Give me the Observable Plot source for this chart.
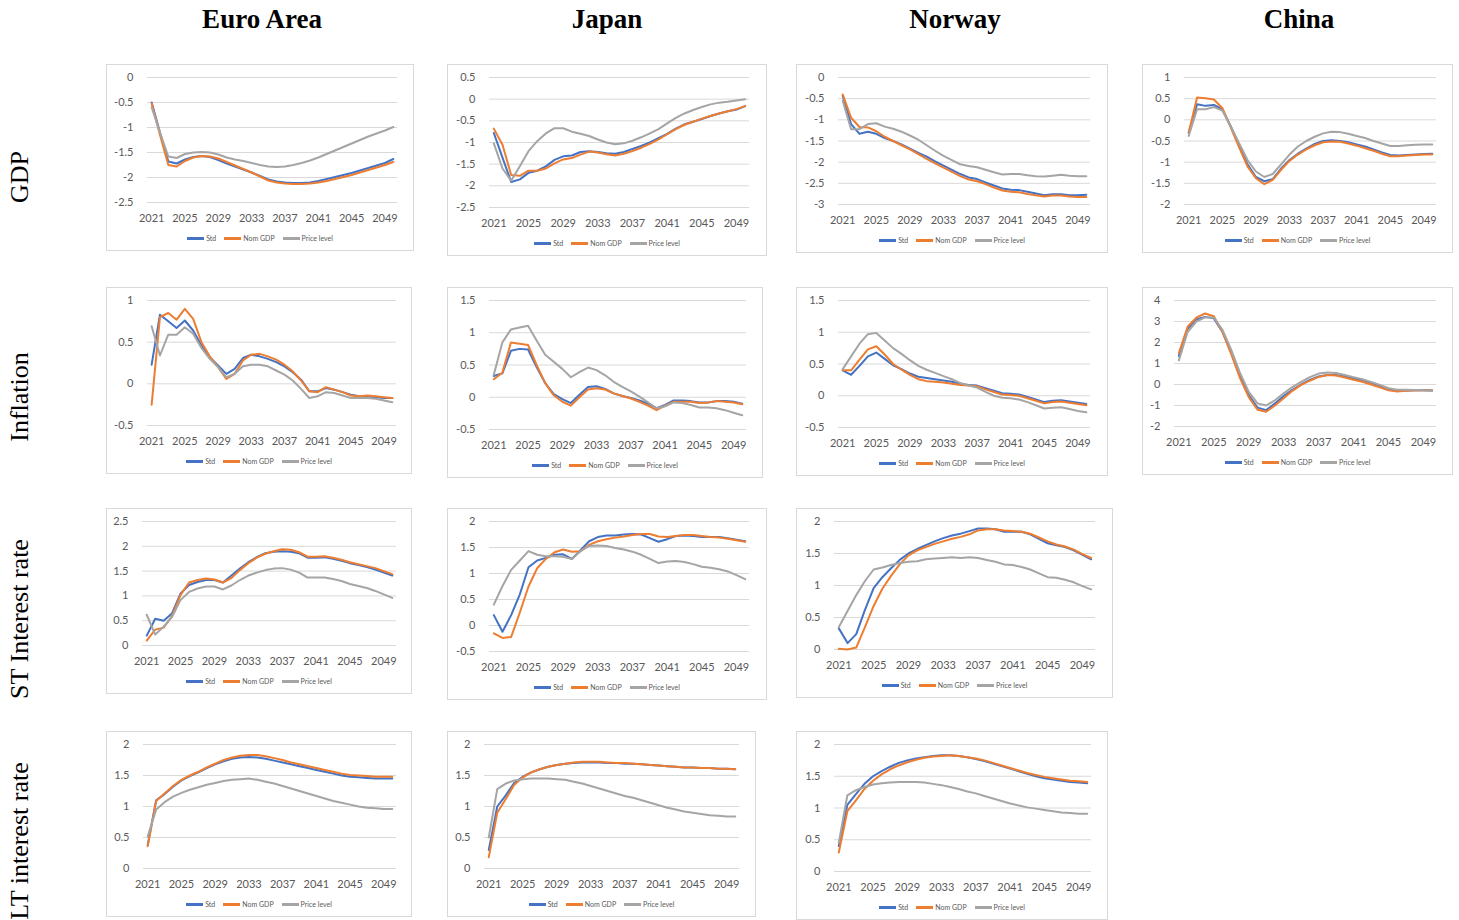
<!DOCTYPE html>
<html>
<head>
<meta charset="utf-8">
<script src="https://cdn.jsdelivr.net/npm/d3@7"></script>
<script src="https://cdn.jsdelivr.net/npm/@observablehq/plot@0.6"></script>
<style>
  html, body { margin: 0; padding: 0; background: #fff; }
  #root { position: relative; width: 1459px; height: 920px; overflow: hidden; }
  .colhead { position: absolute; top: 4px; font-family: "Liberation Serif", "Times New Roman", serif; font-weight: bold; font-size: 27px; color: #000; transform: translateX(-50%); white-space: nowrap; }
  .rowhead { position: absolute; left: 20px; font-family: "Liberation Serif", "Times New Roman", serif; font-size: 26px; color: #000; white-space: nowrap; transform: translate(-50%, -50%) rotate(-90deg); }
  .box { position: absolute; border: 1px solid #d9d9d9; box-sizing: border-box; background: #fff; }
  .box svg { position: absolute; left: 0; top: 0; }
  .legend { position: absolute; left: 0; right: 0; bottom: 6px; display: flex; justify-content: center; align-items: center; gap: 8px; font-family: Lato, "Open Sans", sans-serif; font-size: 7px; color: #595959; line-height: 12px; }
  .legend .item { display: flex; align-items: center; gap: 2px; }
  .legend .sw { display: inline-block; width: 17px; height: 3px; }
</style>
</head>
<body>
<div id="root"></div>
<script>
// ---------- DATA ----------
const years = d3.range(2021, 2051);
const xTicks = [2021, 2025, 2029, 2033, 2037, 2041, 2045, 2049];
const seriesNames = ["Std", "Nom GDP", "Price level"];
const seriesColors = ["#4472C4", "#ED7D31", "#A5A5A5"];
const columns = ["Euro Area", "Japan", "Norway", "China"];
const rows = ["GDP", "Inflation", "ST Interest rate", "LT interest rate"];

// GDP
const euroGdpStd = [-0.5,-1.1,-1.68,-1.72,-1.64,-1.59,-1.57,-1.59,-1.65,-1.72,-1.78,-1.84,-1.9,-1.97,-2.04,-2.08,-2.1,-2.11,-2.11,-2.1,-2.07,-2.03,-1.99,-1.95,-1.91,-1.86,-1.81,-1.76,-1.71,-1.63];
const euroGdpNom = [-0.52,-1.15,-1.75,-1.78,-1.67,-1.6,-1.57,-1.58,-1.62,-1.69,-1.76,-1.83,-1.9,-1.98,-2.06,-2.1,-2.12,-2.13,-2.13,-2.12,-2.1,-2.07,-2.03,-1.99,-1.95,-1.9,-1.85,-1.8,-1.75,-1.69];
const euroGdpPrice = [-0.6,-1.1,-1.58,-1.61,-1.53,-1.5,-1.49,-1.5,-1.54,-1.6,-1.64,-1.67,-1.71,-1.75,-1.78,-1.79,-1.78,-1.75,-1.71,-1.66,-1.6,-1.53,-1.46,-1.39,-1.32,-1.25,-1.18,-1.12,-1.06,-0.99];

const japanGdpStd = [-0.78,-1.35,-1.91,-1.85,-1.7,-1.65,-1.55,-1.4,-1.32,-1.3,-1.22,-1.2,-1.22,-1.25,-1.26,-1.22,-1.15,-1.08,-1.0,-0.9,-0.8,-0.68,-0.58,-0.52,-0.46,-0.39,-0.33,-0.28,-0.24,-0.16];
const japanGdpNom = [-0.68,-1.05,-1.75,-1.77,-1.65,-1.65,-1.6,-1.48,-1.39,-1.36,-1.28,-1.21,-1.23,-1.27,-1.3,-1.26,-1.2,-1.12,-1.03,-0.93,-0.81,-0.69,-0.59,-0.52,-0.45,-0.39,-0.33,-0.28,-0.23,-0.16];
const japanGdpPrice = [-1.02,-1.6,-1.88,-1.55,-1.2,-0.97,-0.79,-0.67,-0.67,-0.75,-0.8,-0.85,-0.93,-1.0,-1.04,-1.02,-0.96,-0.88,-0.79,-0.69,-0.56,-0.43,-0.33,-0.25,-0.18,-0.12,-0.08,-0.06,-0.03,0.0];

const norwayGdpStd = [-0.43,-1.1,-1.33,-1.28,-1.33,-1.43,-1.5,-1.58,-1.68,-1.78,-1.87,-1.98,-2.08,-2.18,-2.28,-2.36,-2.4,-2.48,-2.55,-2.62,-2.65,-2.66,-2.7,-2.74,-2.78,-2.76,-2.76,-2.78,-2.78,-2.77];
const norwayGdpNom = [-0.4,-0.95,-1.17,-1.18,-1.27,-1.4,-1.5,-1.6,-1.7,-1.81,-1.92,-2.03,-2.13,-2.23,-2.33,-2.41,-2.45,-2.52,-2.6,-2.67,-2.7,-2.71,-2.75,-2.78,-2.81,-2.79,-2.79,-2.81,-2.82,-2.82];
const norwayGdpPrice = [-0.55,-1.22,-1.22,-1.1,-1.08,-1.16,-1.21,-1.28,-1.37,-1.47,-1.6,-1.73,-1.85,-1.95,-2.05,-2.09,-2.12,-2.18,-2.24,-2.29,-2.28,-2.28,-2.31,-2.33,-2.34,-2.32,-2.3,-2.32,-2.33,-2.33];

const chinaGdpStd = [-0.3,0.37,0.33,0.35,0.25,-0.15,-0.6,-1.05,-1.35,-1.45,-1.4,-1.15,-0.95,-0.8,-0.68,-0.57,-0.5,-0.48,-0.5,-0.53,-0.58,-0.63,-0.7,-0.77,-0.83,-0.84,-0.83,-0.82,-0.81,-0.8];
const chinaGdpNom = [-0.3,0.53,0.51,0.48,0.28,-0.18,-0.65,-1.1,-1.38,-1.52,-1.42,-1.18,-0.97,-0.82,-0.7,-0.6,-0.53,-0.51,-0.52,-0.56,-0.61,-0.67,-0.73,-0.8,-0.86,-0.86,-0.84,-0.83,-0.82,-0.82];
const chinaGdpPrice = [-0.38,0.25,0.25,0.3,0.22,-0.15,-0.55,-0.95,-1.22,-1.35,-1.28,-1.05,-0.82,-0.63,-0.5,-0.4,-0.32,-0.28,-0.29,-0.33,-0.38,-0.43,-0.5,-0.56,-0.62,-0.62,-0.6,-0.59,-0.58,-0.58];

// Inflation
const euroInfStd = [0.23,0.83,0.75,0.67,0.76,0.64,0.46,0.32,0.22,0.12,0.18,0.31,0.35,0.33,0.3,0.26,0.21,0.14,0.05,-0.09,-0.09,-0.05,-0.07,-0.1,-0.13,-0.15,-0.15,-0.16,-0.17,-0.17];
const euroInfNom = [-0.25,0.8,0.85,0.77,0.9,0.78,0.5,0.33,0.2,0.06,0.12,0.28,0.35,0.36,0.33,0.29,0.23,0.15,0.04,-0.09,-0.1,-0.04,-0.07,-0.1,-0.14,-0.15,-0.14,-0.15,-0.16,-0.17];
const euroInfPrice = [0.69,0.34,0.59,0.59,0.68,0.6,0.43,0.3,0.2,0.08,0.12,0.21,0.23,0.23,0.21,0.16,0.11,0.04,-0.06,-0.17,-0.15,-0.1,-0.11,-0.14,-0.17,-0.17,-0.17,-0.18,-0.2,-0.22];

const japanInfStd = [0.33,0.37,0.72,0.75,0.74,0.47,0.22,0.05,-0.03,-0.09,0.04,0.16,0.17,0.13,0.06,0.02,-0.01,-0.05,-0.1,-0.17,-0.12,-0.05,-0.05,-0.06,-0.08,-0.08,-0.06,-0.06,-0.07,-0.1];
const japanInfNom = [0.28,0.38,0.85,0.83,0.81,0.5,0.22,0.03,-0.07,-0.13,0.0,0.12,0.14,0.12,0.06,0.02,-0.02,-0.07,-0.13,-0.2,-0.13,-0.07,-0.07,-0.07,-0.09,-0.08,-0.06,-0.07,-0.08,-0.11];
const japanInfPrice = [0.35,0.85,1.05,1.08,1.11,0.88,0.66,0.55,0.44,0.31,0.39,0.46,0.42,0.34,0.24,0.16,0.09,0.01,-0.08,-0.17,-0.14,-0.08,-0.09,-0.12,-0.16,-0.16,-0.17,-0.2,-0.24,-0.28];

const norwayInfStd = [0.4,0.33,0.47,0.62,0.68,0.58,0.48,0.42,0.35,0.3,0.28,0.26,0.24,0.22,0.19,0.17,0.16,0.12,0.08,0.04,0.03,0.02,-0.02,-0.06,-0.1,-0.08,-0.07,-0.09,-0.11,-0.13];
const norwayInfNom = [0.4,0.4,0.57,0.73,0.78,0.65,0.5,0.41,0.33,0.26,0.23,0.22,0.21,0.19,0.17,0.16,0.15,0.1,0.06,0.02,0.01,0.0,-0.04,-0.08,-0.12,-0.1,-0.09,-0.11,-0.13,-0.15];
const norwayInfPrice = [0.42,0.62,0.82,0.97,0.99,0.87,0.75,0.66,0.56,0.47,0.41,0.36,0.31,0.26,0.2,0.16,0.13,0.06,0.0,-0.03,-0.04,-0.06,-0.1,-0.15,-0.2,-0.19,-0.18,-0.21,-0.24,-0.26];

const chinaInfStd = [1.35,2.65,3.1,3.22,3.15,2.5,1.5,0.4,-0.5,-1.1,-1.22,-0.9,-0.55,-0.25,0.0,0.22,0.38,0.45,0.45,0.38,0.28,0.2,0.08,-0.05,-0.2,-0.28,-0.28,-0.27,-0.27,-0.28];
const chinaInfNom = [1.5,2.75,3.18,3.38,3.25,2.5,1.45,0.3,-0.6,-1.2,-1.3,-1.0,-0.65,-0.3,-0.02,0.18,0.36,0.45,0.43,0.33,0.23,0.13,0.0,-0.13,-0.28,-0.33,-0.3,-0.28,-0.27,-0.27];
const chinaInfPrice = [1.15,2.5,3.0,3.2,3.18,2.6,1.65,0.55,-0.35,-0.9,-1.0,-0.75,-0.42,-0.12,0.12,0.35,0.52,0.57,0.55,0.45,0.35,0.25,0.12,-0.02,-0.18,-0.25,-0.25,-0.26,-0.27,-0.3];

// ST interest rate
const euroStStd = [0.2,0.54,0.5,0.65,1.05,1.22,1.28,1.32,1.32,1.27,1.41,1.55,1.68,1.78,1.86,1.89,1.9,1.89,1.86,1.77,1.77,1.78,1.75,1.71,1.66,1.62,1.58,1.53,1.47,1.41];
const euroStNom = [0.1,0.32,0.36,0.6,1.02,1.27,1.32,1.35,1.33,1.27,1.36,1.52,1.66,1.77,1.85,1.9,1.94,1.93,1.88,1.79,1.79,1.8,1.77,1.73,1.68,1.64,1.6,1.56,1.5,1.44];
const euroStPrice = [0.62,0.22,0.38,0.58,0.92,1.08,1.15,1.19,1.19,1.13,1.21,1.32,1.41,1.47,1.52,1.55,1.56,1.53,1.47,1.37,1.37,1.37,1.34,1.3,1.24,1.2,1.16,1.1,1.03,0.96];

const japanStStd = [0.2,-0.12,0.2,0.6,1.12,1.25,1.3,1.36,1.37,1.28,1.45,1.62,1.7,1.73,1.73,1.75,1.76,1.75,1.68,1.61,1.66,1.72,1.73,1.72,1.7,1.7,1.7,1.68,1.65,1.62];
const japanStNom = [-0.15,-0.24,-0.22,0.25,0.75,1.1,1.28,1.41,1.46,1.42,1.43,1.55,1.62,1.66,1.69,1.71,1.74,1.76,1.76,1.71,1.7,1.72,1.74,1.74,1.72,1.7,1.69,1.67,1.64,1.61];
const japanStPrice = [0.4,0.76,1.07,1.25,1.43,1.36,1.33,1.33,1.32,1.28,1.43,1.53,1.54,1.53,1.49,1.46,1.42,1.36,1.28,1.2,1.23,1.24,1.22,1.18,1.13,1.11,1.08,1.04,0.97,0.89];

const norwayStStd = [0.33,0.1,0.24,0.62,0.96,1.13,1.27,1.4,1.5,1.57,1.63,1.69,1.74,1.78,1.81,1.85,1.89,1.89,1.88,1.84,1.84,1.84,1.8,1.73,1.66,1.63,1.6,1.55,1.48,1.41];
const norwayStNom = [0.01,0.0,0.03,0.35,0.68,0.95,1.15,1.33,1.47,1.55,1.6,1.65,1.69,1.73,1.76,1.8,1.86,1.88,1.88,1.86,1.85,1.84,1.81,1.75,1.69,1.64,1.61,1.56,1.49,1.43];
const norwayStPrice = [0.35,0.6,0.85,1.07,1.25,1.28,1.32,1.35,1.37,1.38,1.41,1.42,1.43,1.44,1.43,1.44,1.43,1.4,1.37,1.33,1.32,1.29,1.25,1.19,1.13,1.12,1.09,1.05,0.99,0.94];

// LT interest rate
const euroLtStd = [0.38,1.1,1.2,1.32,1.42,1.49,1.55,1.62,1.68,1.73,1.77,1.79,1.8,1.79,1.77,1.74,1.71,1.68,1.65,1.62,1.59,1.56,1.53,1.5,1.48,1.47,1.46,1.45,1.45,1.45];
const euroLtNom = [0.36,1.09,1.21,1.33,1.43,1.5,1.56,1.63,1.69,1.75,1.79,1.82,1.83,1.83,1.81,1.78,1.75,1.71,1.68,1.65,1.62,1.59,1.56,1.53,1.51,1.5,1.49,1.48,1.48,1.48];
const euroLtPrice = [0.52,0.95,1.07,1.16,1.22,1.27,1.31,1.35,1.38,1.41,1.43,1.44,1.45,1.43,1.4,1.37,1.33,1.29,1.25,1.21,1.17,1.13,1.09,1.06,1.03,1.0,0.98,0.97,0.96,0.96];

const japanLtStd = [0.3,1.0,1.18,1.38,1.48,1.55,1.6,1.64,1.67,1.69,1.7,1.71,1.71,1.71,1.7,1.7,1.69,1.69,1.68,1.67,1.66,1.65,1.64,1.63,1.63,1.62,1.62,1.61,1.61,1.6];
const japanLtNom = [0.18,0.9,1.12,1.35,1.47,1.55,1.6,1.64,1.67,1.69,1.71,1.72,1.72,1.72,1.71,1.7,1.7,1.69,1.68,1.67,1.66,1.65,1.64,1.63,1.63,1.62,1.62,1.61,1.61,1.6];
const japanLtPrice = [0.5,1.28,1.37,1.42,1.44,1.45,1.45,1.45,1.44,1.43,1.4,1.37,1.33,1.29,1.25,1.21,1.17,1.14,1.1,1.06,1.02,0.98,0.95,0.92,0.9,0.88,0.86,0.85,0.84,0.84];

const norwayLtStd = [0.4,1.05,1.22,1.38,1.5,1.58,1.65,1.71,1.75,1.78,1.8,1.82,1.83,1.83,1.82,1.8,1.77,1.74,1.7,1.66,1.62,1.58,1.54,1.5,1.47,1.45,1.43,1.41,1.4,1.39];
const norwayLtNom = [0.3,0.95,1.12,1.3,1.43,1.53,1.61,1.67,1.72,1.76,1.79,1.81,1.82,1.83,1.82,1.8,1.78,1.75,1.71,1.67,1.63,1.59,1.55,1.52,1.49,1.47,1.45,1.43,1.42,1.41];
const norwayLtPrice = [0.45,1.2,1.28,1.33,1.37,1.39,1.4,1.41,1.41,1.41,1.4,1.38,1.36,1.33,1.3,1.26,1.23,1.19,1.15,1.11,1.07,1.04,1.01,0.99,0.97,0.95,0.93,0.92,0.91,0.91];

// y-axis tick labels per panel
const ticksEuroGdp = [0, -0.5, -1, -1.5, -2, -2.5];
const ticksJapanGdp = [0.5, 0, -0.5, -1, -1.5, -2, -2.5];
const ticksNorwayGdp = [0, -0.5, -1, -1.5, -2, -2.5, -3];
const ticksChinaGdp = [1, 0.5, 0, -0.5, -1, -1.5, -2];
const ticksEuroInf = [1, 0.5, 0, -0.5];
const ticksJapanInf = [1.5, 1, 0.5, 0, -0.5];
const ticksNorwayInf = [1.5, 1, 0.5, 0, -0.5];
const ticksChinaInf = [4, 3, 2, 1, 0, -1, -2];
const ticksEuroSt = [2.5, 2, 1.5, 1, 0.5, 0];
const ticksJapanSt = [2, 1.5, 1, 0.5, 0, -0.5];
const ticksNorwaySt = [2, 1.5, 1, 0.5, 0];
const ticksLt = [2, 1.5, 1, 0.5, 0];

// ---------- LAYOUT ----------
const root = document.getElementById("root");
const colX = [262, 607, 955, 1299];
columns.forEach((c, i) => {
  const d = document.createElement("div");
  d.className = "colhead"; d.textContent = c; d.style.left = colX[i] + "px";
  root.appendChild(d);
});
const rowY = [177, 397, 619, 841];
rows.forEach((r, i) => {
  const d = document.createElement("div");
  d.className = "rowhead"; d.textContent = r; d.style.top = rowY[i] + "px";
  root.appendChild(d);
});

function panel(left, top, w, h, ml, mr, ticks, series) {
  const box = document.createElement("div");
  box.className = "box";
  Object.assign(box.style, {left: left + "px", top: top + "px", width: w + "px", height: h + "px"});
  const ext = d3.extent(ticks);
  const marks = [
    Plot.gridY(ticks, {stroke: "#d9d9d9", strokeOpacity: 1, strokeWidth: 1}),
    Plot.axisY(ticks, {tickSize: 0, tickPadding: 14, tickFormat: d => String(d), label: null}),
    Plot.axisX(xTicks, {tickSize: 0, tickPadding: 12, tickFormat: d => String(d), label: null})
  ];
  series.forEach((vals, k) => {
    marks.push(Plot.line(vals, {x: (d, i) => years[i], y: d => d, stroke: seriesColors[k], strokeWidth: 2, strokeLinejoin: "round", strokeLinecap: "round"}));
  });
  const svg = Plot.plot({
    width: w - 2, height: h - 2,
    marginLeft: ml, marginRight: mr, marginTop: 12, marginBottom: 48,
    x: {domain: [2020.5, 2050.5]},
    y: {domain: ext},
    style: {fontFamily: "Lato, 'Open Sans', sans-serif", fontSize: "11px", color: "#595959", background: "transparent", overflow: "visible"},
    marks
  });
  box.appendChild(svg);
  const lg = document.createElement("div");
  lg.className = "legend";
  seriesNames.forEach((n, k) => {
    const it = document.createElement("span"); it.className = "item";
    const sw = document.createElement("span"); sw.className = "sw"; sw.style.background = seriesColors[k];
    const tx = document.createElement("span"); tx.textContent = n;
    it.appendChild(sw); it.appendChild(tx); lg.appendChild(it);
  });
  box.appendChild(lg);
  root.appendChild(box);
}

// Row 1: GDP
panel(106, 64, 308, 187, 40, 16, ticksEuroGdp, [euroGdpStd, euroGdpNom, euroGdpPrice]);
panel(447, 64, 320, 192, 41, 17, ticksJapanGdp, [japanGdpStd, japanGdpNom, japanGdpPrice]);
panel(796, 64, 312, 189, 41, 17, ticksNorwayGdp, [norwayGdpStd, norwayGdpNom, norwayGdpPrice]);
panel(1142, 64, 311, 189, 41, 16, ticksChinaGdp, [chinaGdpStd, chinaGdpNom, chinaGdpPrice]);
// Row 2: Inflation
panel(106, 287, 306, 187, 40, 15, ticksEuroInf, [euroInfStd, euroInfNom, euroInfPrice]);
panel(447, 287, 316, 191, 41, 16, ticksJapanInf, [japanInfStd, japanInfNom, japanInfPrice]);
panel(796, 287, 312, 189, 41, 17, ticksNorwayInf, [norwayInfStd, norwayInfNom, norwayInfPrice]);
panel(1142, 287, 311, 188, 31, 16, ticksChinaInf, [chinaInfStd, chinaInfNom, chinaInfPrice]);
// Row 3: ST interest rate
panel(106, 508, 306, 186, 35, 15, ticksEuroSt, [euroStStd, euroStNom, euroStPrice]);
panel(447, 508, 320, 192, 41, 17, ticksJapanSt, [japanStStd, japanStNom, japanStPrice]);
panel(796, 508, 317, 190, 37, 17, ticksNorwaySt, [norwayStStd, norwayStNom, norwayStPrice]);
// Row 4: LT interest rate
panel(106, 731, 306, 186, 36, 15, ticksLt, [euroLtStd, euroLtNom, euroLtPrice]);
panel(447, 731, 309, 186, 36, 16, ticksLt, [japanLtStd, japanLtNom, japanLtPrice]);
panel(796, 731, 312, 189, 37, 16, ticksLt, [norwayLtStd, norwayLtNom, norwayLtPrice]);
</script>
</body>
</html>
